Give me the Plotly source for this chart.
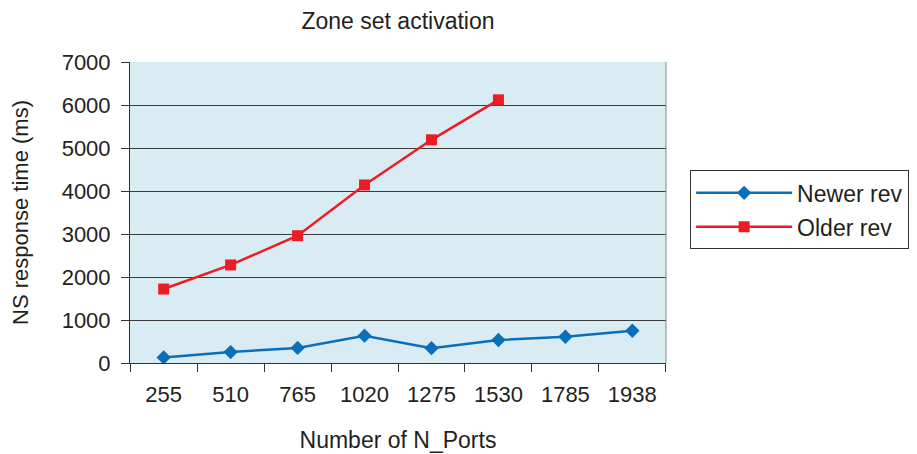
import plotly.graph_objects as go

categories = ["255", "510", "765", "1020", "1275", "1530", "1785", "1938"]
newer_rev = [130, 255, 350, 635, 345, 535, 610, 750]
older_rev = [1720, 2280, 2960, 4140, 5190, 6120]

FONT = "Liberation Sans, Arial, sans-serif"

fig = go.Figure()
fig.add_trace(go.Scatter(
    x=categories, y=newer_rev, name="Newer rev", mode="lines+markers",
    legendgroup="a",
    line=dict(color="#0a6fb8", width=2.5),
    marker=dict(symbol="diamond", size=11, color="#0a6fb8"),
))
fig.add_trace(go.Scatter(
    x=categories[:len(older_rev)], y=older_rev, name="Older rev", mode="lines+markers",
    legendgroup="b",
    line=dict(color="#ec1c24", width=2.5),
    marker=dict(symbol="square", size=11, color="#ec1c24"),
))

fig.update_layout(
    width=917, height=454,
    margin=dict(l=122, r=259, t=54, b=99, autoexpand=False),
    paper_bgcolor="white",
    plot_bgcolor="#daecf3",
    font=dict(family=FONT, size=22, color="#231f20"),
    title=dict(text="Zone set activation", x=0.5, xref="paper", xanchor="center",
               y=0.972, yref="container", yanchor="middle",
               font=dict(family=FONT, size=23, color="#231f20")),
    legend=dict(x=1.045, y=0.64, xanchor="left", yanchor="top",
                bordercolor="#333", borderwidth=1, bgcolor="white",
                font=dict(family=FONT, size=23, color="#231f20"), itemwidth=96,
                traceorder="grouped", tracegroupgap=1),
    showlegend=True,
)
fig.update_xaxes(
    type="category", tickson="boundaries", ticks="outside", ticklen=8,
    tickcolor="#333", showline=True, linecolor="#333", linewidth=1,
    showgrid=False,
    title=dict(text="Number of N_Ports", standoff=25,
               font=dict(family=FONT, size=23, color="#231f20")),
    tickfont=dict(family=FONT, size=22, color="#231f20"),
    ticklabelstandoff=12, automargin=False,
)
fig.update_yaxes(
    range=[0, 7000], dtick=1000, ticks="outside", ticklen=8, tickcolor="#333",
    showline=True, linecolor="#333", linewidth=1,
    showgrid=True, gridcolor="#3c3c3c", gridwidth=1.2,
    title=dict(text="NS response time (ms)", standoff=28,
               font=dict(family=FONT, size=22, color="#231f20")),
    tickfont=dict(family=FONT, size=22, color="#231f20"),
    ticklabelstandoff=6, zeroline=False, automargin=False,
)
fig.add_shape(type="line", xref="paper", yref="paper", x0=1, x1=1, y0=0, y1=1,
              line=dict(color="#888", width=1))

fig.write_html("out.html")
